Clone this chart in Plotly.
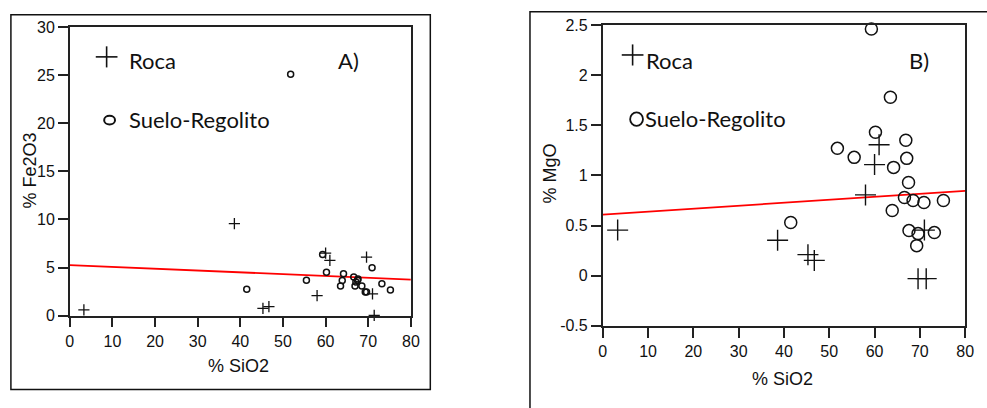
import plotly.graph_objects as go

# --- data -------------------------------------------------------------
# Rock samples (Roca)
roca_sio2 = [3.3, 38.6, 45.3, 46.7, 58.0, 60.0, 61.0, 69.6, 71.0, 71.4]
roca_fe2o3 = [0.6, 9.57, 0.76, 0.93, 2.09, 6.5, 5.75, 6.08, 2.26, 0.03]
roca_mgo = [0.455, 0.354, 0.21, 0.153, 0.806, 1.108, 1.306, -0.029, 0.455, -0.029]

# Soil / regolith samples (Suelo-Regolito)
suelo_sio2 = [41.5, 51.8, 55.5, 59.3, 60.2, 63.5, 63.9, 64.2, 66.6, 66.9,
              67.1, 67.5, 67.6, 68.5, 69.3, 69.6, 70.9, 73.2, 75.2]
suelo_fe2o3 = [2.75, 25.1, 3.69, 6.35, 4.52, 3.09, 3.66, 4.36, 4.02, 3.09,
               3.5, 3.69, 3.8, 3.09, 2.46, 2.46, 4.98, 3.32, 2.66]
suelo_mgo = [0.53, 1.27, 1.18, 2.46, 1.43, 1.78, 0.65, 1.08, 0.78, 1.35,
             1.17, 0.93, 0.45, 0.75, 0.30, 0.42, 0.73, 0.43, 0.75]

# Fitted trend lines, evaluated at the ends of the SiO2 axis
trend_sio2 = [0, 80]
trend_fe2o3 = [5.25, 3.75]
trend_mgo = [0.61, 0.845]

x_ticks = [0, 10, 20, 30, 40, 50, 60, 70, 80]
fe_ticks = [0, 5, 10, 15, 20, 25, 30]
mg_ticks = [-0.5, 0, 0.5, 1, 1.5, 2, 2.5]
mg_tick_labels = ["-0.5", "0", "0.5", "1", "1.5", "2", "2.5"]

# --- layout helpers (pixel -> paper) ----------------------------------
W, H = 987, 408


def px(x):
    return x / W


def py(y):
    return 1 - y / H


INK = "#111"
AXIS_FONT = dict(family="Liberation Sans Narrow, Arial Narrow, Liberation Sans, Arial",
                 size=16, color=INK)
TITLE_FONT = dict(family="Liberation Sans Narrow, Arial Narrow, Liberation Sans, Arial",
                  size=18, color=INK)
LABEL_FONT = dict(family="Lato, Calibri, Carlito, sans-serif", size=22, color=INK)

fig = go.Figure()

# Panel A: Fe2O3 vs SiO2
fig.add_trace(go.Scatter(x=trend_sio2, y=trend_fe2o3, mode="lines",
                         line=dict(color="#ff0000", width=1.8),
                         xaxis="x", yaxis="y", showlegend=False))
fig.add_trace(go.Scatter(x=roca_sio2, y=roca_fe2o3, mode="markers",
                         marker=dict(symbol="cross-thin-open", size=8, color=INK,
                                     line=dict(color=INK, width=1.3)),
                         xaxis="x", yaxis="y", showlegend=False, cliponaxis=False))
fig.add_trace(go.Scatter(x=suelo_sio2, y=suelo_fe2o3, mode="markers",
                         marker=dict(symbol="circle-open", size=6, color=INK,
                                     line=dict(color=INK, width=1.5)),
                         xaxis="x", yaxis="y", showlegend=False, cliponaxis=False))

# Panel B: MgO vs SiO2
fig.add_trace(go.Scatter(x=trend_sio2, y=trend_mgo, mode="lines",
                         line=dict(color="#ff0000", width=1.8),
                         xaxis="x2", yaxis="y2", showlegend=False))
fig.add_trace(go.Scatter(x=roca_sio2, y=roca_mgo, mode="markers",
                         marker=dict(symbol="cross-thin-open", size=15, color=INK,
                                     line=dict(color=INK, width=1.4)),
                         xaxis="x2", yaxis="y2", showlegend=False, cliponaxis=False))
fig.add_trace(go.Scatter(x=suelo_sio2, y=suelo_mgo, mode="markers",
                         marker=dict(symbol="circle-open", size=12, color=INK,
                                     line=dict(color=INK, width=1.5)),
                         xaxis="x2", yaxis="y2", showlegend=False, cliponaxis=False))

axis_common = dict(showgrid=False, zeroline=False, showline=True, mirror=True,
                   linecolor="#222", linewidth=1.6, ticks="outside", ticklen=10,
                   tickwidth=1.5, tickcolor="#222", tickfont=AXIS_FONT)

fig.update_layout(
    width=W, height=H, margin=dict(l=0, r=0, t=0, b=0),
    paper_bgcolor="white", plot_bgcolor="white",
    xaxis=dict(axis_common, domain=[px(66.7), px(412.3)], range=[0, 80],
               tickvals=x_ticks, anchor="y"),
    yaxis=dict(axis_common, domain=[py(321), py(20)], range=[0, 30],
               tickvals=fe_ticks, anchor="x"),
    xaxis2=dict(axis_common, domain=[px(606.7), px(974)], range=[0, 80],
                tickvals=x_ticks, anchor="y2"),
    yaxis2=dict(axis_common, domain=[py(331.7), py(17.7)], range=[-0.5, 2.5],
                tickvals=mg_ticks, ticktext=mg_tick_labels, anchor="x2"),
)

shapes = [
    # outer frames
    dict(type="rect", xref="paper", yref="paper", x0=px(7), x1=px(432),
         y0=py(398), y1=py(7), line=dict(color=INK, width=1.5)),
    dict(type="rect", xref="paper", yref="paper", x0=px(533), x1=px(1010),
         y0=py(430), y1=py(4), line=dict(color=INK, width=1.5)),
]


def cross(cx, cy, half, width):
    return [
        dict(type="line", xref="paper", yref="paper", x0=px(cx - half), x1=px(cx + half),
             y0=py(cy), y1=py(cy), line=dict(color=INK, width=width)),
        dict(type="line", xref="paper", yref="paper", x0=px(cx), x1=px(cx),
             y0=py(cy - half), y1=py(cy + half), line=dict(color=INK, width=width)),
    ]


def ring(cx, cy, rx, ry, width):
    return dict(type="circle", xref="paper", yref="paper",
                x0=px(cx - rx), x1=px(cx + rx), y0=py(cy + ry), y1=py(cy - ry),
                line=dict(color=INK, width=width))


# key symbols
shapes += cross(104, 51, 11, 1.6)
shapes.append(ring(107, 117, 5.5, 4.5, 2))
shapes += cross(637, 49, 11, 1.6)
shapes.append(ring(641, 116, 6.5, 7, 1.8))

fig.update_layout(shapes=shapes)

annotations = [
    dict(text="Roca", x=px(125), y=py(55), xanchor="left", yanchor="middle", font=LABEL_FONT),
    dict(text="Suelo-Regolito", x=px(125), y=py(116), xanchor="left", yanchor="middle",
         font=LABEL_FONT),
    dict(text="A)", x=px(349), y=py(55), xanchor="center", yanchor="middle", font=LABEL_FONT),
    dict(text="Roca", x=px(649), y=py(55), xanchor="left", yanchor="middle", font=LABEL_FONT),
    dict(text="Suelo-Regolito", x=px(648), y=py(115), xanchor="left", yanchor="middle",
         font=LABEL_FONT),
    dict(text="B)", x=px(927), y=py(55), xanchor="center", yanchor="middle", font=LABEL_FONT),
    # axis titles
    dict(text="% SiO2", x=px(238), y=py(374), xanchor="center", yanchor="middle",
         font=TITLE_FONT),
    dict(text="% Fe2O3", x=px(26), y=py(170), xanchor="center", yanchor="middle",
         textangle=-90, font=TITLE_FONT),
    dict(text="% SiO2", x=px(789), y=py(387), xanchor="center", yanchor="middle",
         font=TITLE_FONT),
    dict(text="% MgO", x=px(553), y=py(173), xanchor="center", yanchor="middle",
         textangle=-90, font=TITLE_FONT),
]
for a in annotations:
    a.update(xref="paper", yref="paper", showarrow=False)
fig.update_layout(annotations=annotations)

fig.write_html("out.html")
